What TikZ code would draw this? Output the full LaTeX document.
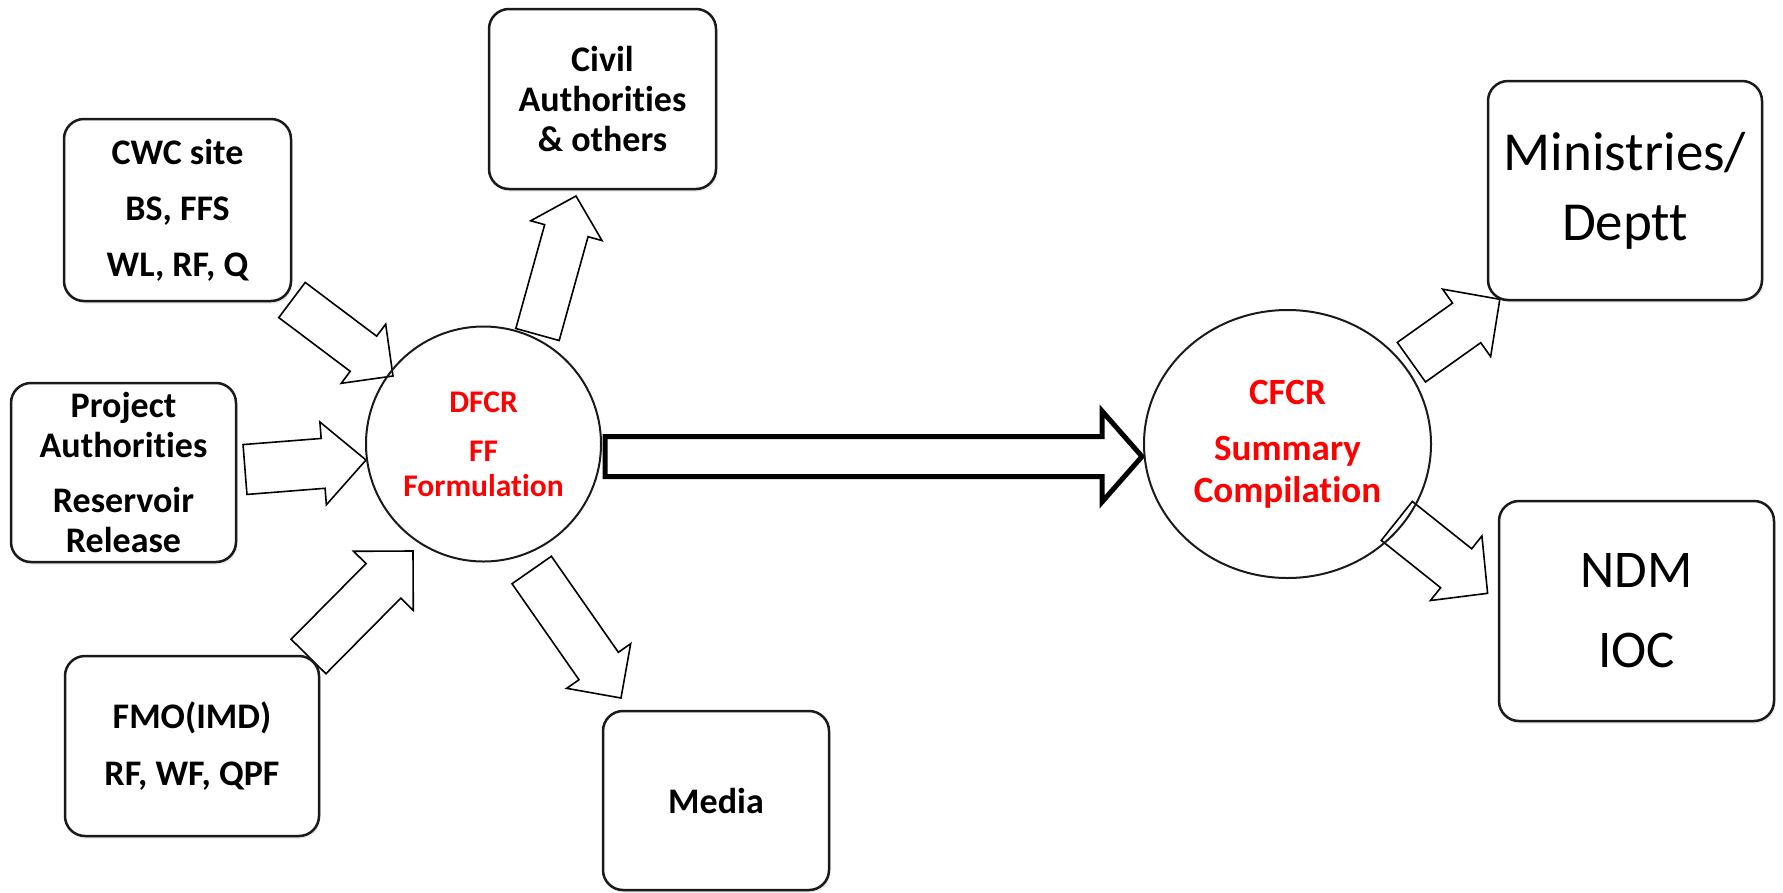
\documentclass[tikz,border=0pt]{standalone}
\usepackage{fontspec}
\setmainfont{Carlito}[Ligatures={NoCommon}]
\usetikzlibrary{calc,shapes.geometric,shadows}
\pgfdeclarelayer{bg}
\pgfsetlayers{bg,main}
\definecolor{boxline}{HTML}{1A1A1A}
\tikzset{
  srcbox/.style={draw=boxline, line width=2.5pt, rounded corners=20pt, fill=white,
    align=center, inner sep=0pt,
    drop shadow={shadow xshift=1.5pt, shadow yshift=-2.5pt, opacity=0.18}},
  hub/.style={draw=boxline, line width=2pt, text=red, align=center, inner sep=0pt},
  blockarrow/.style={draw=black, line width=1.6pt, fill=white, line join=miter},
  bigarrow/.style={draw=black, line width=5pt, fill=white, line join=miter}
}
% #1 style, #2 start, #3 tip, #4 shaft half width, #5 head half width, #6 head length
\newcommand{\blockarr}[6][]{%
  \coordinate (tmpH) at ($(#3)!#6!(#2)$);
  \draw[blockarrow,#1] ($(#2)!#4!90:(#3)$) -- ($(tmpH)!#4!90:(#3)$) -- ($(tmpH)!#5!90:(#3)$)
    -- (#3) -- ($(tmpH)!#5!-90:(#3)$) -- ($(tmpH)!#4!-90:(#3)$) -- ($(#2)!#4!-90:(#3)$) -- cycle;
}
\begin{document}
\begin{tikzpicture}[x=1pt,y=-1pt]
\useasboundingbox (0,0) rectangle (1783,892);

% source / target boxes
\node[srcbox, minimum width=227pt, minimum height=182pt, font=\fontsize{36}{56}\selectfont\bfseries] (cwc) at (177.5,210) {CWC site\\BS, FFS\\WL, RF, Q};
\node[srcbox, minimum width=225pt, minimum height=179pt, font=\fontsize{36}{40}\selectfont\bfseries] (proj) at (123.5,472.5) {Project\\Authorities\\[15pt]Reservoir\\Release};
\node[srcbox, minimum width=254pt, minimum height=180pt, font=\fontsize{36}{57}\selectfont\bfseries] (fmo) at (192,746) {FMO(IMD)\\RF, WF, QPF};
\node[srcbox, minimum width=227pt, minimum height=180pt, font=\fontsize{36}{40}\selectfont\bfseries] (civil) at (602.5,99) {Civil\\Authorities\\\& others};
\node[srcbox, minimum width=226pt, minimum height=179pt, font=\fontsize{36}{40}\selectfont\bfseries] (media) at (716,800.5) {Media};
\node[srcbox, minimum width=274pt, minimum height=219pt, font=\fontsize{55}{70}\selectfont] (mins) at (1625,190.5) {Ministries/\\Deptt};
\node[srcbox, minimum width=275pt, minimum height=220pt, font=\fontsize{53}{80}\selectfont] (ndm) at (1636.5,611) {NDM\\IOC};

% hubs
\node[hub, circle, minimum size=235pt, font=\fontsize{31.5}{35}\selectfont\bfseries] (dfcr) at (483.5,444) {DFCR\\[14pt]FF\\Formulation};
\node[hub, ellipse, minimum width=287pt, minimum height=268pt, font=\fontsize{37}{42}\selectfont\bfseries] (cfcr) at (1287.5,444) {CFCR\\[14pt]Summary\\Compilation};

\begin{pgfonlayer}{bg}
  \fill[white] (0,0) rectangle (1783,892);
  % inputs to DFCR
  \coordinate (a1s) at (292,300);    \coordinate (a1e) at (393,376);
  \blockarr{a1s}{a1e}{22pt}{37pt}{37pt}
  \coordinate (a2s) at (245,469.5);  \coordinate (a2e) at (366,460);
  \blockarr{a2s}{a2e}{25pt}{41.5pt}{43pt}
  \coordinate (a3s) at (308.5,656.5); \coordinate (a3e) at (413,551);
  \blockarr{a3s}{a3e}{24.5pt}{42pt}{42pt}
  % outputs of DFCR
  \coordinate (a4s) at (537.5,334.5); \coordinate (a4e) at (576,196);
  \blockarr{a4s}{a4e}{22.5pt}{37pt}{36pt}
  \coordinate (a5s) at (531.7,570);  \coordinate (a5e) at (621,698);
  \blockarr{a5s}{a5e}{24pt}{39pt}{39pt}
  % outputs of CFCR
  \coordinate (a6s) at (1411.4,362.2); \coordinate (a6e) at (1499.8,299.3);
  \blockarr{a6s}{a6e}{24.3pt}{41.4pt}{40.7pt}
  \coordinate (a7s) at (1396.8,520.9); \coordinate (a7e) at (1487.6,593.3);
  \blockarr{a7s}{a7e}{24.9pt}{41.3pt}{40.2pt}
  % main transfer arrow DFCR -> CFCR
  \coordinate (ms) at ($(dfcr.east)+(3,12.5)$);
  \coordinate (me) at ($(cfcr.west)+(-1,12.5)$);
  \blockarr[bigarrow]{ms}{me}{20pt}{45.5pt}{40pt}
\end{pgfonlayer}
\end{tikzpicture}
\end{document}
